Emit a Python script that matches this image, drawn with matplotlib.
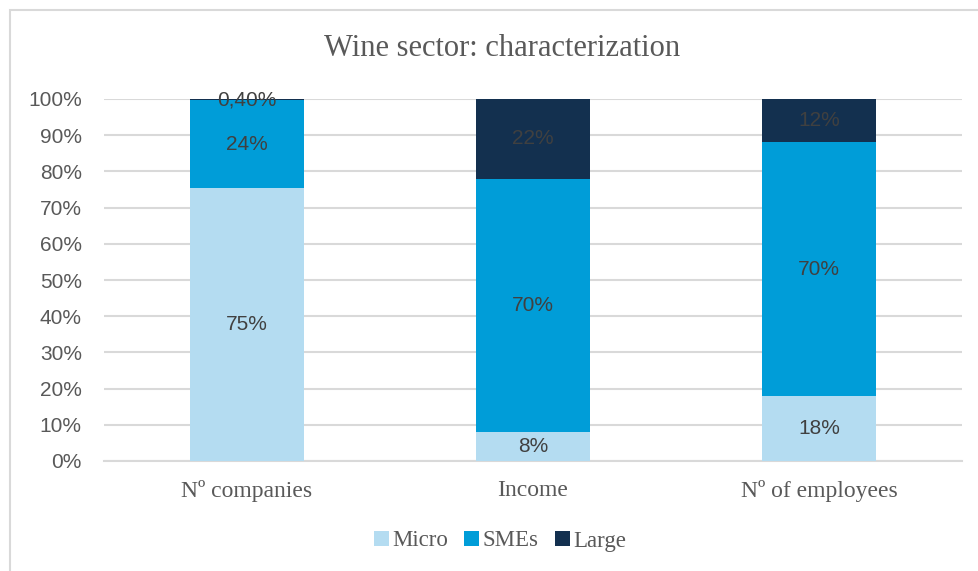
import matplotlib.pyplot as plt
import numpy as np
from matplotlib.patches import Rectangle
from matplotlib.ticker import PercentFormatter

categories = ["Nº companies", "Income", "Nº of employees"]
series = ["Micro", "SMEs", "Large"]
micro = [75.4, 8, 18]
smes = [24.2, 70, 70]
large = [0.4, 22, 12]

colors = ["#B4DCF1", "#009DD8", "#13304F"]
serif = "Liberation Serif"
sans = "Liberation Sans"


def fmt(v):
    if v < 1:
        return f"{v:.2f}%".replace(".", ",")
    return f"{v:.0f}%"


fig = plt.figure(figsize=(9.79, 5.71), dpi=100)
ax = fig.add_axes([104 / 979, 1 - 461 / 571, 858 / 979, 362 / 571])

# chart area border (only left and top edges fall inside the canvas)
fig.patches.append(Rectangle((10 / 979, -0.1), 1.2, 1 - 10 / 571 + 0.1,
                             transform=fig.transFigure, fill=False,
                             edgecolor="#D9D9D9", linewidth=1.5))

x = np.arange(len(categories))
bottom = np.zeros(len(categories))
for name, vals, c in zip(series, [micro, smes, large], colors):
    vals = np.array(vals, dtype=float)
    ax.bar(x, vals, width=0.4, bottom=bottom, color=c, label=name, zorder=3)
    for xi, b, v in zip(x, bottom, vals):
        ax.text(xi, b + v / 2, fmt(v), ha="center", va="center",
                fontsize=15, family=sans, color="#404040", zorder=4)
    bottom += vals

ax.set_xlim(-0.5, 2.5)
ax.set_ylim(0, 100)
ax.set_yticks(np.arange(0, 101, 10))
ax.yaxis.set_major_formatter(PercentFormatter(decimals=0))
ax.set_xticks(x)
ax.set_xticklabels(categories, family=serif, fontsize=17, color="#595959")
for lab in ax.get_yticklabels():
    lab.set_family(sans)
    lab.set_fontsize(15)
    lab.set_color("#595959")

ax.grid(axis="y", color="#D9D9D9", linewidth=1.5, zorder=0)
for s in ["top", "right", "left"]:
    ax.spines[s].set_visible(False)
ax.spines["bottom"].set_color("#D9D9D9")
ax.spines["bottom"].set_linewidth(1.5)
ax.tick_params(axis="both", length=0)
ax.tick_params(axis="x", pad=14)
ax.tick_params(axis="y", pad=16)

fig.text(502 / 979, 1 - 49 / 571, "Wine sector: characterization", ha="center",
         va="center", family=serif, fontsize=22, color="#595959")

leg = fig.legend(loc="center", bbox_to_anchor=(500 / 979, 1 - 541 / 571), ncol=3,
                 frameon=False, prop={"family": serif, "size": 16.5},
                 handlelength=0.65, handleheight=0.65, handletextpad=0.15,
                 columnspacing=0.7)
for t in leg.get_texts():
    t.set_color("#595959")

fig.savefig("out.png", dpi=100)
